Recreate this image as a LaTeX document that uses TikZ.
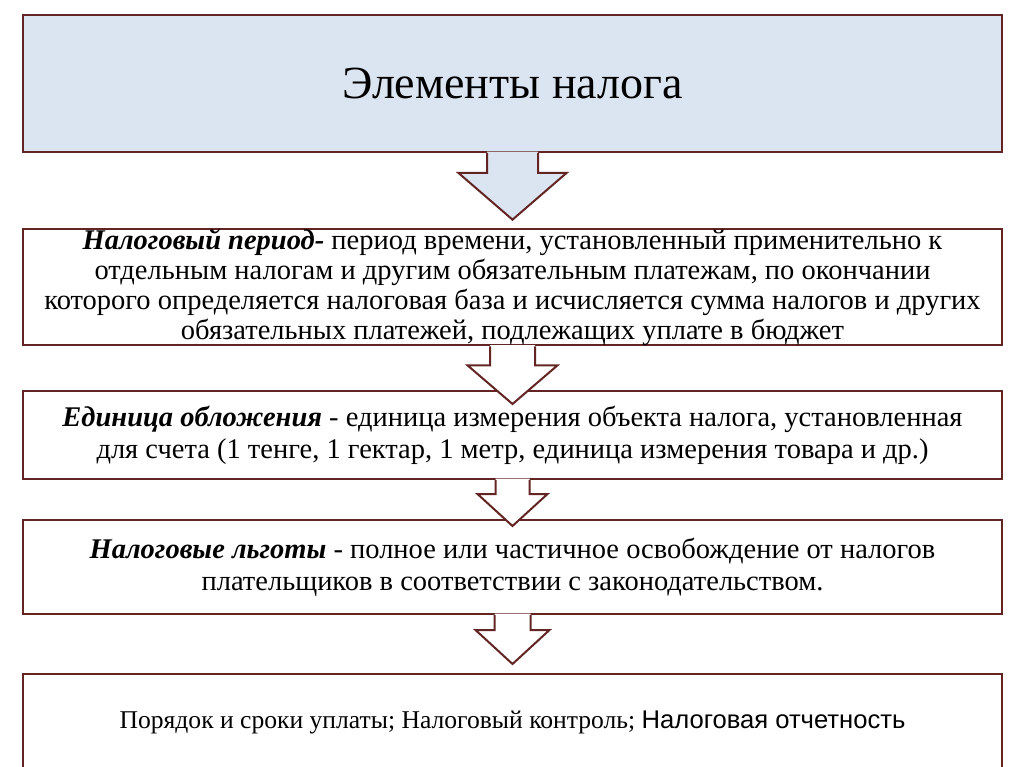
\documentclass[tikz,border=0pt]{standalone}
\usepackage{fontspec}
\setmainfont{Liberation Serif}
\newfontfamily\arialfont{Liberation Sans}
\usetikzlibrary{calc}

\definecolor{boxline}{HTML}{632523}
\definecolor{titlefill}{HTML}{DBE5F1}

\tikzset{
  elembox/.style={draw=boxline, line width=2pt, minimum width=979pt, inner sep=0pt, align=center, font=\fontsize{28.5}{30}\selectfont},
  stepline/.style={draw=boxline, line width=2pt, line join=miter},
}

% block arrow from the bottom of one box down to the next one
\newcommand{\downstep}[7]{%
  \coordinate (top) at (#1.south);
  \coordinate (tip) at ($(#2.north)+(0,#6)$);
  \fill[#7] ($(top)+(-#3,-1.3)$) -- ($(top)+(-#3,#5)$) -- ($(top)+(-#4,#5)$) -- (tip)
    -- ($(top)+(#4,#5)$) -- ($(top)+(#3,#5)$) -- ($(top)+(#3,-1.3)$) -- cycle;
  \draw[stepline] ($(top)+(-#3,0)$) -- ($(top)+(-#3,#5)$) -- ($(top)+(-#4,#5)$) -- (tip)
    -- ($(top)+(#4,#5)$) -- ($(top)+(#3,#5)$) -- ($(top)+(#3,0)$);
}

\begin{document}
\begin{tikzpicture}[x=1pt, y=-1pt]
  \useasboundingbox[fill=white] (0,0) rectangle (1024,767);

  \node[elembox, fill=titlefill, minimum height=137pt, font=\fontsize{46}{52}\selectfont] (title) at (512.5,83.5) {Элементы налога};

  \node[elembox, minimum height=112pt] (period) at (512.5,287) {\textbf{\textit{Налоговый период-}} период времени, установленный применительно к\\
    отдельным налогам и другим обязательным платежам, по окончании\\
    которого определяется налоговая база и исчисляется сумма налогов и других\\
    обязательных платежей, подлежащих уплате в бюджет};

  \node[elembox, minimum height=88pt, font=\fontsize{28.5}{32}\selectfont] (unit) at (512.5,435) {\textbf{\textit{Единица обложения}} - единица измерения объекта налога, установленная\\
    для счета (1 тенге, 1 гектар, 1 метр, единица измерения товара и др.)};

  \node[elembox, minimum height=94pt, font=\fontsize{28.5}{32}\selectfont] (relief) at (512.5,567) {\textbf{\textit{Налоговые льготы}} - полное или частичное освобождение от налогов\\
    плательщиков в соответствии с законодательством.};

  \node[elembox, minimum height=96pt, font=\fontsize{25.6}{30}\selectfont] (order) at (512.5,722) {Порядок и сроки уплаты; Налоговый контроль; {\arialfont Налоговая отчетность}};

  % arrows between the boxes
  \downstep{title}{period}{25.5}{54}{20}{-8}{titlefill}
  \downstep{period}{unit}{22.5}{45}{19}{14}{white}
  \downstep{unit}{relief}{17}{35}{14}{7}{white}
  \downstep{relief}{order}{18}{37}{15}{-9}{white}
\end{tikzpicture}
\end{document}
